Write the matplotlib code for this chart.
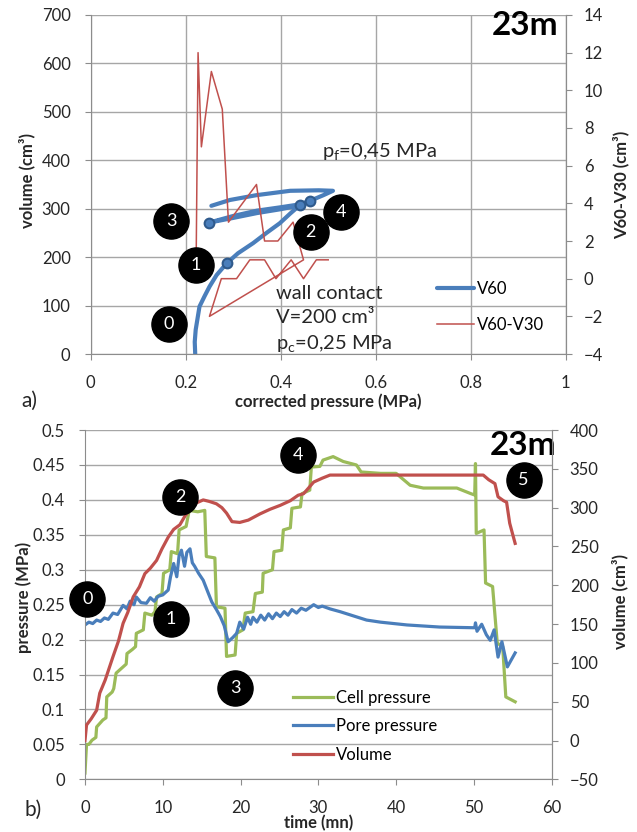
import matplotlib
matplotlib.use("Agg")
import matplotlib.pyplot as plt

plt.rcParams['font.family'] = ['Lato', 'DejaVu Sans']
plt.rcParams['font.size'] = 12

# ---- a) V60 and V60-V30 vs corrected pressure
v60_p = [0.220, 0.219, 0.221, 0.229, 0.240, 0.250, 0.265, 0.286, 0.31, 0.342, 0.37, 0.398, 0.42, 0.44,
         0.40, 0.35, 0.30, 0.248, 0.30, 0.35, 0.40, 0.44, 0.461, 0.49, 0.51, 0.48, 0.42, 0.349, 0.293, 0.254]
v60_v = [0, 25, 50, 98, 120, 139, 163, 187, 208, 229, 250, 270, 290, 307,
         299, 291, 281, 271, 285, 296, 303, 309, 316, 328, 337, 338, 337, 328, 318, 306]
mark_p = [0.286, 0.248, 0.44, 0.461]
mark_v = [187, 271, 307, 316]

dv_p = [0.222, 0.226, 0.233, 0.254, 0.277, 0.29, 0.349, 0.366, 0.394, 0.426, 0.448, 0.25, 0.275,
        0.307, 0.335, 0.366, 0.39, 0.422, 0.448, 0.475, 0.50]
dv_v = [1, 12, 7, 11, 9, 3, 5, 2, 2, 3, 1, -2, 0, 0, 1, 1, 0, 1, 0, 1, 1]

stage_a = ['0', '1', '3', '2', '4']
stage_a_p = [0.164, 0.222, 0.170, 0.463, 0.526]
stage_a_v = [62, 184, 275, 252, 294]

# ---- b) time series
cell_t = [0, 0.2, 0.5, 0.9, 1.4, 1.5, 2.3, 2.7, 2.8, 3.5, 3.7, 4.0, 4.8, 5.3, 5.4, 6.1, 6.5, 6.6, 7.5, 7.7,
          8.6, 9.0, 9.2, 9.9, 10.1, 10.9, 11.1, 11.9, 12.1, 13.0, 13.4, 14.5, 15.4, 15.6, 16.7, 16.9,
          18.0, 18.2, 19.3, 19.5, 20.3, 20.6, 21.6, 21.9, 22.8, 22.9, 24.1, 24.3, 25.3, 25.5, 26.4,
          26.6, 27.7, 27.9, 28.9, 29.1, 30.2, 30.6, 31.9, 33.2, 34.9, 35.5, 38, 40, 41.8, 43.5, 47.8,
          49.6, 50.1, 50.2, 50.3, 51.3, 51.5, 52.4, 53.0, 53.7, 54.1, 55.3]
cell_p = [0.009, 0.05, 0.05, 0.056, 0.06, 0.075, 0.085, 0.088, 0.118, 0.125, 0.13, 0.152, 0.16, 0.165,
          0.18, 0.186, 0.19, 0.209, 0.214, 0.238, 0.235, 0.24, 0.261, 0.266, 0.295, 0.30, 0.326, 0.323,
          0.357, 0.362, 0.385, 0.383, 0.385, 0.319, 0.317, 0.247, 0.245, 0.176, 0.178, 0.209, 0.214,
          0.238, 0.24, 0.266, 0.268, 0.295, 0.30, 0.326, 0.328, 0.357, 0.36, 0.388, 0.39, 0.409, 0.414,
          0.447, 0.448, 0.457, 0.462, 0.455, 0.45, 0.44, 0.438, 0.438, 0.421, 0.417, 0.417, 0.409,
          0.407, 0.452, 0.352, 0.357, 0.281, 0.276, 0.195, 0.19, 0.118, 0.111]

pore_t = [0, 0.5, 1, 1.5, 2, 2.5, 3, 3.6, 4.2, 4.9, 5.4, 5.8, 6.3, 6.6, 7.2, 7.9, 8.4, 8.9, 9.4, 10.0,
          10.7, 11.0, 11.4, 11.8, 12.1, 12.4, 12.8, 13.1, 13.5, 13.8, 14.1, 14.6, 15.2, 15.8, 16.3,
          16.9, 17.4, 17.9, 18.4, 19.0, 19.5, 19.9, 20.4, 20.9, 21.3, 21.6, 22.1, 22.6, 23.1, 23.6,
          24.1, 24.6, 25.1, 25.6, 26.1, 26.6, 27.2, 27.8, 28.4, 29.4, 30, 30.5, 31.5, 32.8, 34.5, 36.2,
          38, 41.4, 45.6, 50.1, 50.2, 50.4, 51.0, 51.6, 52.1, 52.6, 53.1, 53.6, 54.3, 55.3]
pore_p = [0.221, 0.225, 0.223, 0.228, 0.226, 0.231, 0.229, 0.238, 0.236, 0.249, 0.244, 0.255, 0.25,
          0.261, 0.253, 0.252, 0.26, 0.255, 0.262, 0.264, 0.271, 0.29, 0.309, 0.29, 0.32, 0.328, 0.305,
          0.325, 0.33, 0.31, 0.305, 0.295, 0.285, 0.268, 0.254, 0.243, 0.233, 0.22, 0.197, 0.203,
          0.209, 0.225, 0.215, 0.232, 0.222, 0.232, 0.225, 0.235, 0.228, 0.237, 0.23, 0.238, 0.233,
          0.24, 0.235, 0.243, 0.238, 0.245, 0.242, 0.25, 0.246, 0.248, 0.244, 0.24, 0.234, 0.228,
          0.225, 0.221, 0.218, 0.217, 0.224, 0.212, 0.222, 0.207, 0.199, 0.214, 0.175, 0.197, 0.161, 0.181]

vol_t = [0, 0.2, 0.8, 1.5, 1.9, 2.6, 3.6, 4.3, 4.9, 5.5, 6.2, 7.0, 7.7, 8.4, 9.2, 9.9, 10.7, 11.4, 12.2,
         12.9, 13.5, 14.3, 15.2, 16.0, 16.9, 17.6, 18.2, 18.9, 19.9, 21.0, 22.5, 23.8, 25.1, 26.4, 27.4,
         28.1, 28.8, 29.4, 30.5, 31.5, 40, 45, 51.2, 51.9, 52.7, 53.1, 53.8, 54.2, 54.6, 55.0, 55.3]
vol_v = [0, 20, 28, 39, 61, 78, 108, 128, 151, 165, 185, 198, 215, 222, 232, 247, 262, 272, 278, 290,
         297, 306, 310, 308, 305, 300, 293, 282, 281, 284, 292, 298, 303, 309, 316, 318, 326, 333, 338,
         342, 342, 342, 342, 336, 331, 314, 309, 307, 280, 265, 254]

stage_b = ['0', '1', '2', '3', '4', '5']
stage_b_t = [0.3, 11.06, 12.21, 19.29, 27.4, 56.4]
stage_b_p = [0.258, 0.229, 0.4045, 0.1302, 0.4638, 0.429]

BLUE = '#4a7ebb'
RED = '#c0504d'
GREEN = '#9bbb59'
GRID = '#a6a6a6'
TXT = '#262626'


def style(ax, twin, vgrid):
    ax.spines['top'].set_visible(False)
    twin.spines['top'].set_visible(False)
    for s in ['left', 'bottom', 'right']:
        ax.spines[s].set_color('#8c8c8c')
        twin.spines[s].set_color('#8c8c8c')
    twin.spines['left'].set_visible(False)
    twin.spines['bottom'].set_visible(False)
    ax.grid(True, axis='y', color=GRID, lw=1)
    if vgrid:
        ax.grid(True, axis='x', color=GRID, lw=1)
    ax.set_axisbelow(True)
    ax.tick_params(axis='y', direction='out', length=4, color='#8c8c8c', pad=10.5, labelcolor=TXT)
    ax.tick_params(axis='x', direction='out', length=4, color='#8c8c8c', pad=11, labelcolor=TXT)
    twin.tick_params(axis='y', direction='out', length=4, color='#8c8c8c', pad=9, labelcolor=TXT)


def stages(ax, data_ax, labels, xs, ys):
    ax.scatter(xs, ys, s=640, c='black', zorder=10, transform=data_ax.transData, clip_on=False)
    for lab, x, y in zip(labels, xs, ys):
        ax.text(x, y, lab, color='white', fontsize=13, ha='center', va='center',
                zorder=11, transform=data_ax.transData)


fig = plt.figure(figsize=(6.37, 8.32), dpi=100)

# ---------------- a)
ax1 = fig.add_axes([0.1424, 0.5745, 0.7457, 0.4075])
ax1b = ax1.twinx()
l1, = ax1.plot(v60_p, v60_v, color=BLUE, lw=3, solid_capstyle='round', label='V60')
ax1.plot(mark_p, mark_v, 'o', ms=7, mfc=BLUE, mec='#2f5a8c', mew=1.5, zorder=5)
l2, = ax1b.plot(dv_p, dv_v, color=RED, lw=1.1, label='V60-V30')
ax1.set_xlim(0, 1)
ax1.set_ylim(0, 700)
ax1.set_xticks([0, 0.2, 0.4, 0.6, 0.8, 1])
ax1.set_xticklabels(['0', '0.2', '0.4', '0.6', '0.8', '1'])
ax1.set_yticks(range(0, 701, 100))
ax1b.set_ylim(-4, 14)
ax1b.set_yticks(range(-4, 15, 2))
style(ax1, ax1b, True)
ax1.set_xlabel('corrected pressure (MPa)', fontweight='bold', color=TXT)
ax1.xaxis.set_label_coords(0.5, -0.115)
ax1.set_ylabel('volume (cm³)', fontweight='bold', color=TXT)
ax1.yaxis.set_label_coords(-0.117, 0.513)
ax1b.set_ylabel('V60-V30 (cm³)', fontweight='bold', color=TXT)
ax1b.yaxis.set_label_coords(1.0996, 0.4985)
ax1b.legend([l1, l2], ['V60', 'V60-V30'], loc='center left', bbox_to_anchor=(0.729, 0.139),
            frameon=False, handlelength=2.2, handletextpad=0.2, labelspacing=1.2,
            borderpad=0, borderaxespad=0, fontsize=12)
stages(ax1b, ax1, stage_a, stage_a_p, stage_a_v)
ax1.text(0.487, 417, 'p$_\\mathregular{f}$=0,45 MPa', fontsize=14.5, va='center', color=TXT)
ax1.text(0.390, 70, 'wall contact\nV=200 cm³\np$_\\mathregular{c}$=0,25 MPa', fontsize=14.5,
         va='center', linespacing=1.5, color=TXT)
ax1.text(0.984, 0.941, '23m', transform=ax1.transAxes, fontsize=24, fontweight='bold',
         ha='right', va='baseline', zorder=12)
fig.text(29 / 637, 1 - 401 / 832, 'a)', fontsize=15, ha='center', va='center', color=TXT)

# ---------------- b)
ax2 = fig.add_axes([0.1334, 0.0633, 0.7327, 0.4198])
ax2b = ax2.twinx()
g, = ax2.plot(cell_t, cell_p, color=GREEN, lw=2.3, label='Cell pressure')
b, = ax2.plot(pore_t, pore_p, color=BLUE, lw=2.3, label='Pore pressure')
r, = ax2b.plot(vol_t, vol_v, color=RED, lw=2.3, label='Volume')
ax2.set_xlim(0, 60)
ax2.set_ylim(0, 0.5)
ax2.set_xticks(range(0, 61, 10))
ax2.set_yticks([i * 0.05 for i in range(11)])
ax2.set_yticklabels(['0', '0.05', '0.1', '0.15', '0.2', '0.25', '0.3', '0.35', '0.4', '0.45', '0.5'])
ax2b.set_ylim(-50, 400)
ax2b.set_yticks(range(-50, 401, 50))
style(ax2, ax2b, False)
ax2.set_xlabel('time (mn)', fontweight='bold', color=TXT)
ax2.xaxis.set_label_coords(0.5, -0.103)
ax2.set_ylabel('pressure (MPa)', fontweight='bold', color=TXT)
ax2.yaxis.set_label_coords(-0.1136, 0.52)
ax2b.set_ylabel('volume (cm³)', fontweight='bold', color=TXT)
ax2b.yaxis.set_label_coords(1.129, 0.51)
ax2b.legend([g, b, r], ['Cell pressure', 'Pore pressure', 'Volume'], loc='center left',
            bbox_to_anchor=(0.4457, 0.1526), frameon=False, handlelength=2.4, handletextpad=0.2,
            labelspacing=0.75, borderpad=0, borderaxespad=0, fontsize=12)
stages(ax2b, ax2, stage_b, stage_b_t, stage_b_p)
ax2.text(1.011, 0.928, '23m', transform=ax2.transAxes, fontsize=24, fontweight='bold',
         ha='right', va='baseline', zorder=12)
fig.text(33 / 637, 1 - 810 / 832, 'b)', fontsize=15, ha='center', va='center', color=TXT)

fig.savefig('out.png', dpi=100)
